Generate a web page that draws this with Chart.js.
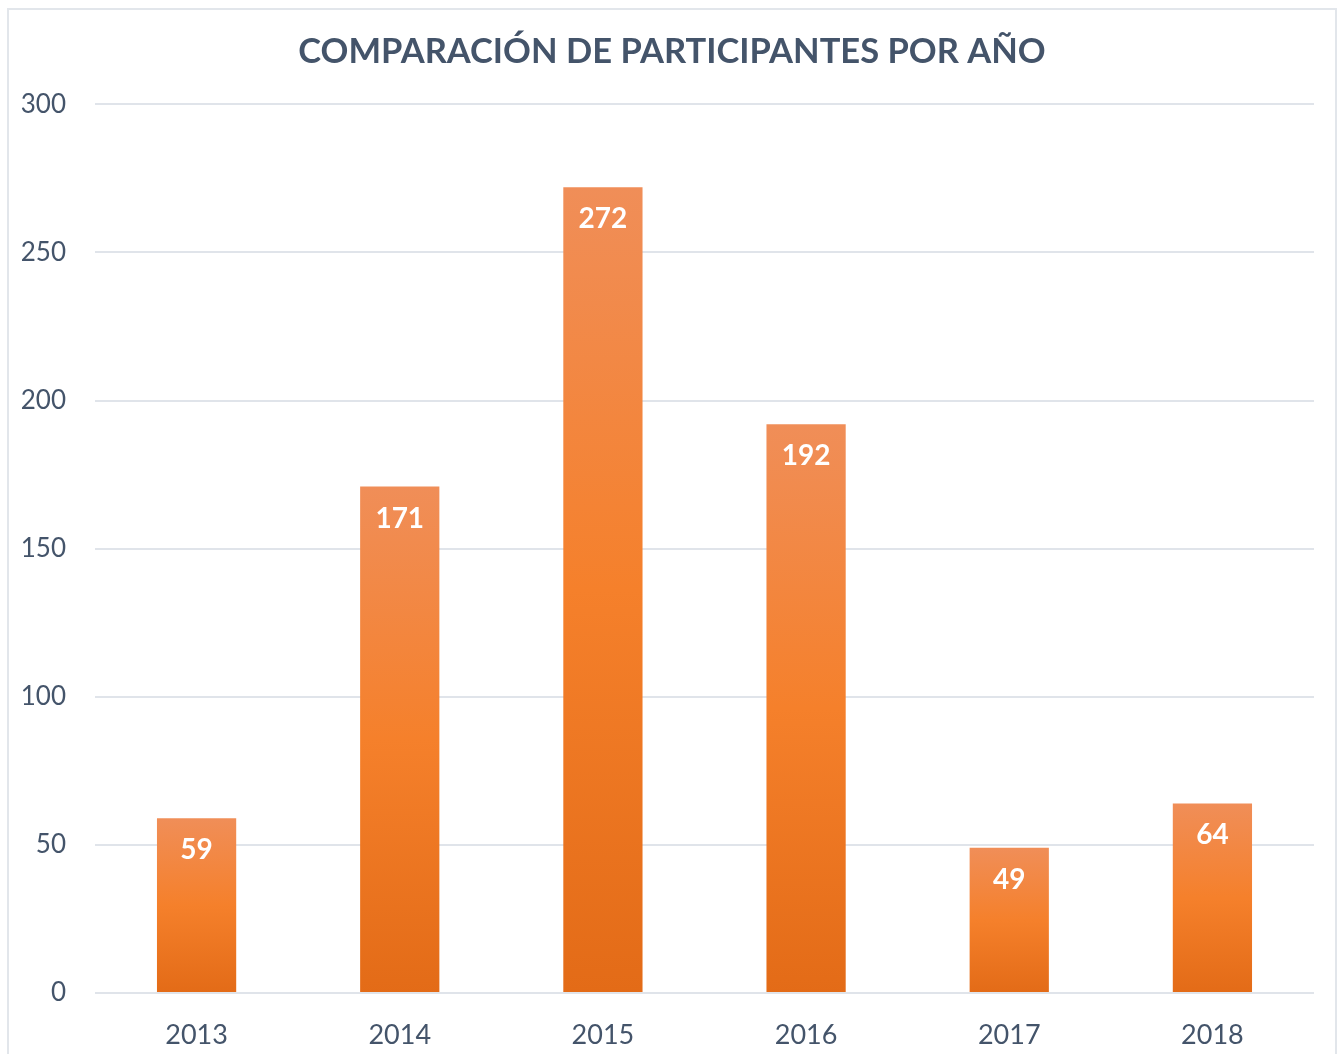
<!DOCTYPE html>
<html>
<head>
<meta charset="utf-8">
<script src="https://cdn.jsdelivr.net/npm/chart.js@4"></script>
<style>
    html, body { margin: 0; padding: 0; background: #fff; overflow: hidden; }
    #frame {
        position: absolute; left: 7px; top: 8px;
        width: 1326px; height: 1100px;
        border: 2px solid #e2e6eb;
    }
    #wrap { position: absolute; left: 0; top: 0; width: 1338px; height: 1054px; }
</style>
</head>
<body>
<div id="frame"></div>
<div id="wrap"><canvas id="chart"></canvas></div>
<script>
const years = ['2013', '2014', '2015', '2016', '2017', '2018'];
const participants = [59, 171, 272, 192, 49, 64];
const yTicks = [0, 50, 100, 150, 200, 250, 300];

const textColor = '#44546a';
const fontName = "Lato, 'Open Sans', sans-serif";

// gradient per bar, lighter on top
function barFill(context) {
    const chart = context.chart;
    if (!chart.chartArea) return '#f47f2a';
    const yScale = chart.scales.y;
    const top = yScale.getPixelForValue(context.raw);
    const base = yScale.getPixelForValue(0);
    const g = chart.ctx.createLinearGradient(0, top, 0, base);
    g.addColorStop(0, '#f08e58');
    g.addColorStop(0.5, '#f5802b');
    g.addColorStop(1, '#e36b17');
    return g;
}

// value labels inside the bar tops
const valueLabels = {
    id: 'valueLabels',
    afterDatasetsDraw(chart) {
        const ctx = chart.ctx;
        const meta = chart.getDatasetMeta(0);
        ctx.save();
        ctx.fillStyle = '#ffffff';
        ctx.font = "bold 28px " + fontName;
        ctx.textAlign = 'center';
        ctx.textBaseline = 'middle';
        meta.data.forEach((bar, i) => {
            ctx.fillText(String(participants[i]), bar.x, bar.y + 32);
        });
        ctx.restore();
    }
};

// title sits centred on the frame, not the canvas
const titleShift = {
    id: 'titleShift',
    afterLayout(chart) {
        if (chart.titleBlock) chart.titleBlock.left = 30;
    }
};

new Chart(document.getElementById('chart'), {
    type: 'bar',
    data: {
        labels: years,
        datasets: [{
            data: participants,
            backgroundColor: barFill,
            borderWidth: 0,
            categoryPercentage: 1,
            barPercentage: 0.39
        }]
    },
    options: {
        responsive: true,
        maintainAspectRatio: false,
        animation: false,
        layout: { padding: { left: 0, right: 24, top: 0, bottom: 0 } },
        plugins: {
            legend: { display: false },
            tooltip: { enabled: false },
            title: {
                display: true,
                text: 'COMPARACIÓN DE PARTICIPANTES POR AÑO',
                color: textColor,
                font: { family: fontName, size: 34.5, weight: 'bold', lineHeight: 1.2 },
                padding: { top: 31, bottom: 32 }
            }
        },
        scales: {
            x: {
                afterFit(scale) { scale.height = 61; },
                grid: { display: false, drawTicks: false },
                border: { display: false },
                ticks: {
                    color: textColor,
                    font: { family: fontName, size: 27, lineHeight: 1.2 },
                    padding: 26
                }
            },
            y: {
                min: 0,
                max: 300,
                afterBuildTicks(scale) {
                    scale.ticks = yTicks.map(v => ({ value: v }));
                },
                afterFit(scale) { scale.width = 95; },
                grid: { color: '#e0e4ea', lineWidth: 2, drawTicks: false },
                border: { display: false },
                ticks: {
                    color: textColor,
                    font: { family: fontName, size: 26 },
                    padding: 29
                }
            }
        }
    },
    plugins: [valueLabels, titleShift]
});
</script>
</body>
</html>
